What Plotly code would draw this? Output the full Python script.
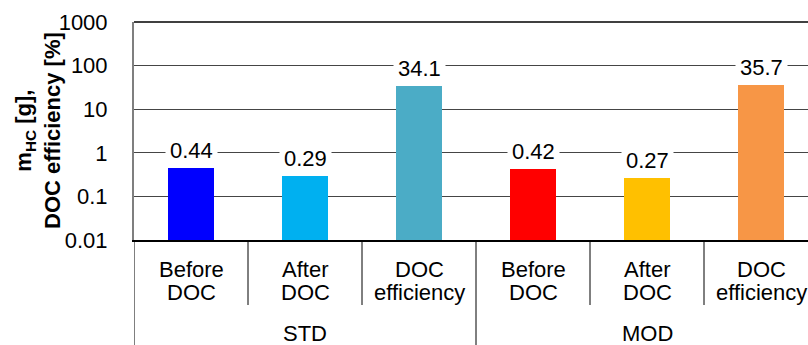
import math
import plotly.graph_objects as go

# HC mass before/after the DOC and DOC conversion efficiency, STD vs MOD
cat_top = ["Before", "After", "DOC", "Before", "After", "DOC"]
cat_bottom = ["DOC", "DOC", "efficiency", "DOC", "DOC", "efficiency"]
groups = ["STD", "MOD"]
values = [0.44, 0.29, 34.1, 0.42, 0.27, 35.7]
bar_colors = ["#0000FF", "#00B0F0", "#4BACC6", "#FF0000", "#FFC000", "#F79646"]
y_ticks = [0.01, 0.1, 1, 10, 100, 1000]
y_tick_text = ["0.01", "0.1", "1", "10", "100", "1000"]

FONT = "Liberation Sans, Arial, sans-serif"
FS = 22
n = len(values)
xpos = list(range(n))
per_group = n // len(groups)

fig = go.Figure()
fig.add_trace(go.Bar(
    x=xpos, y=values, width=0.4,
    marker=dict(color=bar_colors, line=dict(width=0)),
    hoverinfo="skip",
))

annotations = []
# value labels above bars, white box interrupts gridlines
for x, v in zip(xpos, values):
    annotations.append(dict(
        x=x, y=math.log10(v), xref="x", yref="y",
        text=f"{v}", showarrow=False, yanchor="bottom", xanchor="center",
        bgcolor="white", borderpad=4, yshift=0,
        font=dict(family=FONT, size=FS, color="#000000"),
    ))

# two-line category labels
for x, t1, t2 in zip(xpos, cat_top, cat_bottom):
    for txt, dy in ((t1, -29), (t2, -52)):
        annotations.append(dict(
            x=x, y=0, xref="x", yref="paper", text=txt, showarrow=False,
            xanchor="center", yanchor="middle", yshift=dy,
            font=dict(family=FONT, size=FS, color="#000000"),
        ))

# group labels
for g, name in enumerate(groups):
    center = g * per_group + (per_group - 1) / 2
    annotations.append(dict(
        x=center, y=0, xref="x", yref="paper", text=name, showarrow=False,
        xanchor="center", yanchor="middle", yshift=-93,
        font=dict(family=FONT, size=FS, color="#000000"),
    ))

# y-axis title
annotations.append(dict(
    x=0, y=0.5, xref="paper", yref="paper",
    text="<b>m<sub>HC</sub> [g],<br>DOC efficiency [%]</b>",
    showarrow=False, textangle=-90, xanchor="center", yanchor="middle",
    xshift=-96, font=dict(family=FONT, size=FS, color="#000000"),
))

shapes = []
# dividers between categories in the label band
for i in range(n):
    b = i + 0.5
    is_group_edge = (i + 1) % per_group == 0
    shapes.append(dict(
        type="line", xref="x", yref="paper", ysizemode="pixel", yanchor=0,
        x0=b, x1=b, y0=0, y1=-105 if is_group_edge else -65,
        line=dict(color="#000000", width=1),
    ))
# left axis continued down through the label band
shapes.append(dict(
    type="line", xref="x", yref="paper", ysizemode="pixel", yanchor=0,
    x0=-0.5, x1=-0.5, y0=0, y1=-105,
    line=dict(color="#000000", width=1),
))
# darker top gridline at the axis maximum
shapes.append(dict(
    type="line", xref="paper", yref="paper", x0=0, x1=1, y0=1, y1=1,
    line=dict(color="#000000", width=1.5), layer="below",
))

fig.update_layout(
    width=808, height=345,
    margin=dict(l=134, r=0, t=22, b=105, pad=0),
    paper_bgcolor="white", plot_bgcolor="white",
    showlegend=False, bargap=0,
    annotations=annotations, shapes=shapes,
    xaxis=dict(
        range=[-0.5, n - 0.5 - 10 / 114], showticklabels=False, ticks="",
        showgrid=False, zeroline=False,
        showline=True, linecolor="#000000", linewidth=1.5,
    ),
    yaxis=dict(
        type="log", range=[-2, 3],
        tickvals=y_ticks, ticktext=y_tick_text,
        tickfont=dict(family=FONT, size=FS, color="#000000"),
        ticks="", ticklabelstandoff=20,
        showgrid=True, gridcolor="#454545", gridwidth=1,
        showline=True, linecolor="#7f7f7f", linewidth=2,
        zeroline=False,
    ),
)

fig.write_html("out.html")
